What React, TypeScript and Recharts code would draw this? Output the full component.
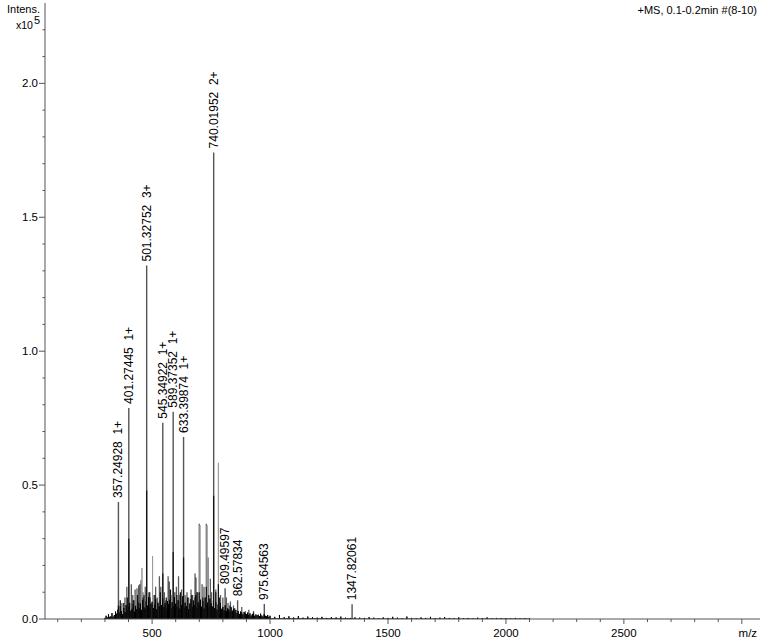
import React from 'react';
import { LineChart, Line, XAxis, YAxis, LabelList } from 'recharts';

// ---- Labelled peaks (m/z position as drawn, intensity x10^5, annotation) ----
const labeledMz = [357.25, 401.27, 477, 545.35, 589.37, 633.4, 761, 809.5, 862.58, 975.65, 1347.82];
const labeledIntensity = [0.437, 0.788, 1.32, 0.733, 0.774, 0.68, 1.742, 0.115, 0.07, 0.056, 0.055];
const labeledText = [
  '357.24928  1+',
  '401.27445  1+',
  '501.32752  3+',
  '545.34922  1+',
  '589.37352  1+',
  '633.39874  1+',
  '740.01952  2+',
  '809.49597',
  '862.57834',
  '975.64563',
  '1347.82061',
];

// ---- Other grey peaks ----
const greyMz = [372, 385, 393, 412, 418, 423, 428, 436, 443, 447, 453, 461, 466, 471, 486, 492, 508, 515, 522, 531, 537, 552, 558, 568, 573, 580, 596, 603, 612, 618, 625, 640, 648, 655, 665, 672, 682, 686, 693, 700, 712, 720, 730, 737, 747, 752, 770, 790, 800, 815, 822, 832, 845, 880, 895, 910, 930];
const greyIntensity = [0.06, 0.08, 0.12, 0.13, 0.09, 0.07, 0.11, 0.115, 0.125, 0.13, 0.145, 0.1, 0.09, 0.12, 0.1, 0.08, 0.09, 0.12, 0.08, 0.16, 0.12, 0.1, 0.07, 0.16, 0.14, 0.09, 0.1, 0.12, 0.16, 0.09, 0.11, 0.09, 0.1, 0.08, 0.11, 0.09, 0.17, 0.155, 0.1, 0.356, 0.13, 0.12, 0.356, 0.23, 0.15, 0.1, 0.11, 0.09, 0.08, 0.08, 0.06, 0.065, 0.05, 0.045, 0.03, 0.035, 0.03];

// ---- Thin light grey peaks ----
const lightMz = [457, 502, 703, 733, 781];
const lightIntensity = [0.19, 0.235, 0.35, 0.35, 0.583];

// ---- Black overlay peaks ----
const blackMz = [357.25, 365, 380, 395, 401.27, 420, 438, 462, 477, 490, 512, 535, 545.35, 560, 578, 589.37, 605, 620, 633.4, 650, 668, 682, 690, 700, 715, 730, 740, 761, 770, 781, 785, 830, 850];
const blackIntensity = [0.05, 0.07, 0.06, 0.08, 0.3, 0.07, 0.09, 0.08, 0.48, 0.1, 0.09, 0.1, 0.17, 0.08, 0.11, 0.25, 0.09, 0.1, 0.23, 0.08, 0.09, 0.08, 0.1, 0.1, 0.08, 0.12, 0.09, 0.46, 0.1, 0.13, 0.08, 0.05, 0.04];

// ---- Dense low-level noise, m/z 300..995 every 5 ----
const noiseStart = 300;
const noiseStep = 5;
const noiseIntensity = [
  0.004, 0.012, 0.006, 0.018, 0.008, 0.010, 0.022, 0.009, 0.015, 0.028,
  0.020, 0.035, 0.024, 0.048, 0.030, 0.018, 0.041, 0.026, 0.052, 0.033,
  0.044, 0.060, 0.031, 0.038, 0.055, 0.027, 0.049, 0.036, 0.062, 0.040,
  0.058, 0.034, 0.071, 0.045, 0.039, 0.066, 0.050, 0.082, 0.043, 0.057,
  0.064, 0.041, 0.053, 0.075, 0.036, 0.061, 0.047, 0.069, 0.052, 0.078,
  0.044, 0.059, 0.038, 0.067, 0.055, 0.072, 0.040, 0.063, 0.049, 0.081,
  0.057, 0.046, 0.070, 0.039, 0.064, 0.052, 0.085, 0.043, 0.061, 0.048,
  0.066, 0.037, 0.058, 0.074, 0.045, 0.069, 0.051, 0.088, 0.042, 0.063,
  0.055, 0.072, 0.046, 0.067, 0.039, 0.080, 0.053, 0.061, 0.044, 0.076,
  0.058, 0.047, 0.069, 0.041, 0.062, 0.035, 0.054, 0.043, 0.060, 0.038,
  0.045, 0.032, 0.051, 0.029, 0.040, 0.036, 0.027, 0.044, 0.031, 0.038,
  0.025, 0.034, 0.022, 0.030, 0.019, 0.028, 0.024, 0.017, 0.026, 0.021,
  0.018, 0.024, 0.015, 0.021, 0.013, 0.019, 0.023, 0.012, 0.017, 0.014,
  0.016, 0.011, 0.020, 0.013, 0.009, 0.018, 0.012, 0.010, 0.015, 0.008,
];

// ---- Sparse tail, m/z 1000..2100 every 20 ----
const tailStart = 1000;
const tailStep = 20;
const tailIntensity = [
  0.012, 0.008, 0.015, 0.007, 0.010, 0.006, 0.011, 0.005, 0.009, 0.007,
  0.005, 0.008, 0.004, 0.007, 0.006, 0.009, 0.005, 0.004, 0.006, 0.005,
  0.004, 0.007, 0.005, 0.003, 0.006, 0.004, 0.008, 0.005, 0.003, 0.009,
  0.004, 0.003, 0.006, 0.004, 0.008, 0.003, 0.005, 0.007, 0.004, 0.003,
  0.006, 0.003, 0.004, 0.002, 0.005, 0.003, 0.006, 0.002, 0.004, 0.003,
  0.003, 0.002, 0.004, 0.002, 0.003, 0.002,
];

// ---- Axis ticks ----
const xTicks = [100, 200, 300, 400, 500, 600, 700, 800, 900, 1000, 1100, 1200, 1300, 1400, 1500, 1600, 1700, 1800, 1900, 2000, 2100, 2200, 2300, 2400, 2500, 2600, 2700, 2800, 2900, 3000];
const xMajorLabels = [500, 1000, 1500, 2000, 2500];
const yTicks = [0, 0.1, 0.2, 0.3, 0.4, 0.5, 0.6, 0.7, 0.8, 0.9, 1.0, 1.1, 1.2, 1.3, 1.4, 1.5, 1.6, 1.7, 1.8, 1.9, 2.0, 2.1, 2.2];
const yMajorLabels = [0, 0.5, 1.0, 1.5, 2.0];

const X_DOMAIN: [number, number] = [46, 3077];
const Y_DOMAIN: [number, number] = [0, 2.3];
const FONT = '"Liberation Sans", Arial, sans-serif';

const sticks = (mz: number[], h: number[]) =>
  mz.flatMap((m, i) => [
    { x: m, y: 0 },
    { x: m, y: h[i] },
    { x: m, y: 0 },
  ]);

const labeledData = sticks(labeledMz, labeledIntensity);
const greyData = sticks(greyMz, greyIntensity);
const lightData = sticks(lightMz, lightIntensity);
const blackData = sticks(blackMz, blackIntensity);
const noiseData = sticks(noiseIntensity.map((_, i) => noiseStart + i * noiseStep), noiseIntensity);
const tailData = sticks(tailIntensity.map((_, i) => tailStart + i * tailStep), tailIntensity);
const labelPoints = labeledMz.map((m, i) => ({ x: m, y: labeledIntensity[i], text: labeledText[i] }));

const PeakLabel = (props: any) => {
  const { x, y, value } = props;
  if (x == null || y == null) return null;
  const ty = y - 4;
  return (
    <text
      x={x}
      y={ty}
      transform={`rotate(-90 ${x} ${ty})`}
      fontSize={12}
      fontFamily={FONT}
      fill="#000"
      dominantBaseline="central"
      style={{ whiteSpace: 'pre' }}
    >
      {value}
    </text>
  );
};

const XTick = (props: any) => {
  const { x, y, payload } = props;
  const v = payload.value;
  const major = xMajorLabels.includes(v);
  const isLast = v === xTicks[xTicks.length - 1];
  return (
    <g>
      <line x1={x} x2={x} y1={y} y2={y + (major || isLast ? 5 : 3)} stroke="#555" />
      {major && (
        <text x={x} y={y + 18} textAnchor="middle" fontSize={11.5} fontFamily={FONT} fill="#000">
          {v}
        </text>
      )}
      {isLast && (
        <text x={x + 6} y={y + 18} textAnchor="middle" fontSize={11.5} fontFamily={FONT} fill="#000">
          m/z
        </text>
      )}
    </g>
  );
};

const YTick = (props: any) => {
  const { x, y, payload } = props;
  const v = payload.value;
  const major = yMajorLabels.some((m) => Math.abs(m - v) < 1e-6);
  return (
    <g>
      <line x1={x - (major ? 6 : 2.5)} x2={x} y1={y} y2={y} stroke="#555" />
      {major && (
        <text x={x - 7} y={y} dy={4} textAnchor="end" fontSize={11.5} fontFamily={FONT} fill="#000">
          {v.toFixed(1)}
        </text>
      )}
    </g>
  );
};

export default function App() {
  return (
    <div style={{ position: 'absolute', left: 0, top: 0, width: 765, height: 643, background: '#fff' }}>
      <LineChart width={765} height={643} margin={{ top: 3, right: 5, bottom: 0, left: 0 }}>
        <XAxis
          xAxisId="main"
          dataKey="x"
          type="number"
          domain={X_DOMAIN}
          allowDataOverflow
          ticks={xTicks}
          interval={0}
          tick={<XTick />}
          tickLine={false}
          tickSize={0}
          tickMargin={0}
          height={24}
          axisLine={{ stroke: '#555' }}
        />
        <XAxis
          xAxisId="top"
          orientation="top"
          type="number"
          domain={X_DOMAIN}
          tick={false}
          tickLine={false}
          height={0}
          axisLine={{ stroke: '#666' }}
        />
        <YAxis
          yAxisId="main"
          type="number"
          domain={Y_DOMAIN}
          allowDataOverflow
          ticks={yTicks}
          interval={0}
          tick={<YTick />}
          tickLine={false}
          tickSize={0}
          tickMargin={0}
          width={45}
          axisLine={{ stroke: '#555' }}
        />
        <YAxis
          yAxisId="right"
          orientation="right"
          type="number"
          domain={Y_DOMAIN}
          tick={false}
          tickLine={false}
          width={0}
          axisLine={{ stroke: '#666' }}
        />
        <Line xAxisId="main" yAxisId="main" data={greyData} dataKey="y" type="linear" stroke="#5a5a5a" strokeWidth={1.3} dot={false} activeDot={false} isAnimationActive={false} />
        <Line xAxisId="main" yAxisId="main" data={labeledData} dataKey="y" type="linear" stroke="#555" strokeWidth={1.4} dot={false} activeDot={false} isAnimationActive={false} />
        <Line xAxisId="main" yAxisId="main" data={lightData} dataKey="y" type="linear" stroke="#9a9a9a" strokeWidth={1} dot={false} activeDot={false} isAnimationActive={false} />
        <Line xAxisId="main" yAxisId="main" data={noiseData} dataKey="y" type="linear" stroke="#000" strokeWidth={1} dot={false} activeDot={false} isAnimationActive={false} />
        <Line xAxisId="main" yAxisId="main" data={tailData} dataKey="y" type="linear" stroke="#000" strokeWidth={1} dot={false} activeDot={false} isAnimationActive={false} />
        <Line xAxisId="main" yAxisId="main" data={blackData} dataKey="y" type="linear" stroke="#111" strokeWidth={1.2} dot={false} activeDot={false} isAnimationActive={false} />
        <Line xAxisId="main" yAxisId="main" data={labelPoints} dataKey="y" type="linear" stroke="none" dot={false} activeDot={false} isAnimationActive={false}>
          <LabelList dataKey="text" content={<PeakLabel />} />
        </Line>
      </LineChart>
      <div style={{ position: 'absolute', left: 7, top: 4, fontFamily: FONT, fontSize: 11, lineHeight: '11px', color: '#000' }}>Intens.</div>
      <div style={{ position: 'absolute', left: 16, top: 20, fontFamily: FONT, fontSize: 10.5, lineHeight: '11px', color: '#000' }}>x10</div>
      <div style={{ position: 'absolute', left: 34, top: 15, fontFamily: FONT, fontSize: 11, lineHeight: '11px', color: '#000' }}>5</div>
      <div style={{ position: 'absolute', right: 8, top: 5, fontFamily: FONT, fontSize: 11, lineHeight: '11px', color: '#000', whiteSpace: 'pre' }}>+MS, 0.1-0.2min #(8-10)</div>
    </div>
  );
}
